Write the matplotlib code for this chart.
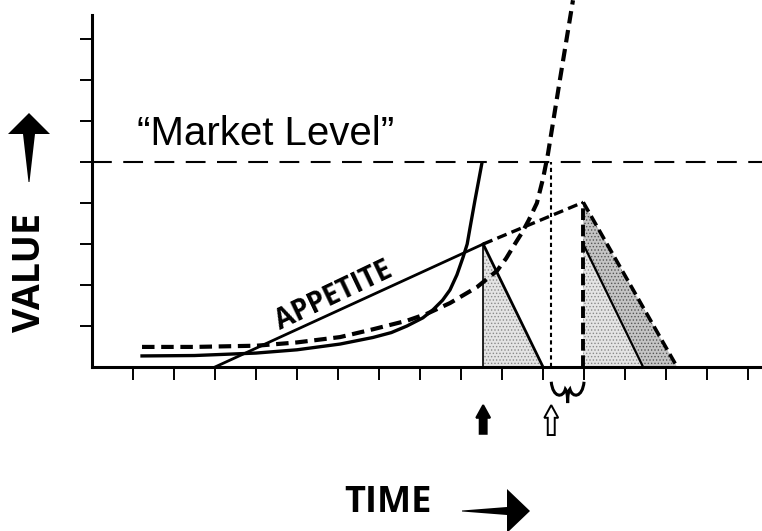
import numpy as np
import matplotlib.pyplot as plt
from matplotlib.patches import Polygon, PathPatch
from matplotlib.path import Path

# --- values (x and y in tick units) ---
market_level = 5.0

# solid curve (rises into the market level)
solid_x = [1.22, 2.5, 4.0, 5.0, 6.05, 6.85, 7.3, 7.68, 8.07, 8.32, 8.55, 8.73, 8.9, 9.05,
           9.15, 9.22, 9.34, 9.43, 9.51]
solid_y = [0.27, 0.28, 0.34, 0.42, 0.56, 0.72, 0.84, 1.0, 1.2, 1.4, 1.63, 1.88, 2.25, 2.68,
           3.0, 3.4, 4.07, 4.55, 4.98]

# dashed curve (later, steeper)
dash_x = [1.22, 2.5, 4.02, 5.0, 6.05, 6.85, 7.68, 8.17, 8.73, 9.39, 9.88, 10.1, 10.3,
          10.5, 10.65, 10.85, 11.0, 11.12, 11.41, 11.73]
dash_y = [0.49, 0.49, 0.52, 0.6, 0.73, 0.92, 1.13, 1.3, 1.56, 1.95, 2.35, 2.65, 2.98,
          3.3, 3.58, 4.0, 4.6, 5.2, 7.0, 8.95]

# appetite line: start, first peak, second peak
appetite_x = [3.0, 9.54, 11.98]
appetite_y = [0.0, 3.0, 4.02]

# decay triangles (peak x, peak height, end x)
tri1 = (9.54, 3.0, 11.0)
tri2_inner = (11.98, 3.0, 13.44)
tri2_outer = (11.98, 4.02, 14.27)

cross_x = 11.2          # dashed curve meets market level
x_ticks = list(range(1, 17))
y_ticks = list(range(1, 9))

plt.rcParams['hatch.linewidth'] = 0.6

W, H = 762, 531
fig = plt.figure(figsize=(W / 100, H / 100), dpi=100)
ax = fig.add_axes([92 / W, (H - 367) / H, (W - 92) / W, (367 - 15) / H])
ax.set_xlim(0, 16.34)
ax.set_ylim(0, 8.59)
for s in ['top', 'right']:
    ax.spines[s].set_visible(False)
for s in ['left', 'bottom']:
    ax.spines[s].set_linewidth(2.2)
ax.set_xticks(x_ticks)
ax.set_yticks(y_ticks)
ax.tick_params(length=9, width=1.4, direction='out', labelbottom=False, labelleft=False)

# shaded triangles (stippled)
ax.add_patch(Polygon([(tri2_outer[0], 0), (tri2_outer[0], tri2_outer[1]), (tri2_outer[2], 0)],
                     closed=True, facecolor='#c4c4c4', edgecolor='#555555', lw=0,
                     hatch='.....', zorder=1))
for t in [tri1, tri2_inner]:
    ax.add_patch(Polygon([(t[0], 0), (t[0], t[1]), (t[2], 0)], closed=True,
                         facecolor='#e4e4e4', edgecolor='#8a8a8a', lw=0,
                         hatch='.....', zorder=2))

# triangle edges
ax.plot([tri1[0], tri1[0]], [0, tri1[1]], color='black', lw=1.2, zorder=3)
ax.plot([tri1[0], tri1[2]], [tri1[1], 0], color='black', lw=2, zorder=3)
ax.plot([tri2_inner[0], tri2_inner[2]], [tri2_inner[1], 0], color='black', lw=1.6, zorder=3)
ax.plot([tri2_outer[0], tri2_outer[0]], [0, tri2_outer[1]], color='black', lw=2.8,
        linestyle=(0, (3, 1.2)), zorder=3)
ax.plot([tri2_outer[0], tri2_outer[2]], [tri2_outer[1], 0], color='black', lw=2.6,
        linestyle=(0, (3, 1.4)), zorder=3)

# market level
ax.plot([0, 16.34], [market_level, market_level], color='black', lw=1.5,
        linestyle=(0, (9.5, 5.5)), zorder=3, clip_on=False)
ax.text(1.10, 5.41, '\u201cMarket Level\u201d', fontsize=29, family='Liberation Sans',
        ha='left', va='baseline')

# curves
ax.plot(solid_x, solid_y, color='black', lw=2.4, zorder=4, solid_joinstyle='round')
ax.plot(dash_x, dash_y, color='black', lw=3, linestyle=(0, (3, 1.6)), zorder=4, clip_on=False)

# appetite
ax.plot(appetite_x[:2], appetite_y[:2], color='black', lw=2, zorder=4)
ax.plot(appetite_x[1:], appetite_y[1:], color='black', lw=2.4, linestyle=(0, (3, 1.6)), zorder=4)
ax.text(5.9, 1.72, 'APPETITE', fontsize=20, family='Open Sans', weight='bold',
        rotation=25.5, ha='center', va='center', rotation_mode='anchor')

# dotted vertical
ax.plot([cross_x, cross_x], [0, market_level], color='black', lw=1.5,
        linestyle=(0, (2, 1.6)), zorder=3)


def up_arrow(x, y0, y1, fc):
    hw, sw, hl = 0.17, 0.085, 0.31
    pts = [(x - sw, y0), (x - sw, y1 - hl), (x - hw, y1 - hl), (x, y1),
           (x + hw, y1 - hl), (x + sw, y1 - hl), (x + sw, y0)]
    ax.add_patch(Polygon(pts, closed=True, facecolor=fc, edgecolor='black', lw=1.4,
                         clip_on=False, zorder=5))


up_arrow(tri1[0], -1.63, -0.93, 'black')
up_arrow(cross_x, -1.66, -0.93, 'white')

# brace between crossing and second peak
x0, x1 = cross_x, tri2_outer[0] + 0.02
w = x1 - x0
xm = x0 + w / 2
verts = [(x0, -0.36),
         (x0 + 0.05 * w, -0.76), (x0 + 0.36 * w, -0.76), (x0 + 0.43 * w, -0.54),
         (xm - 0.03 * w, -0.58), (xm, -0.68), (xm, -0.88),
         (xm, -0.68), (xm + 0.03 * w, -0.58), (x1 - 0.43 * w, -0.54),
         (x1 - 0.36 * w, -0.76), (x1 - 0.05 * w, -0.76), (x1, -0.36)]
codes = [Path.MOVETO] + [Path.CURVE4] * 12
ax.add_patch(PathPatch(Path(verts, codes), facecolor='none', edgecolor='black', lw=2.2,
                       clip_on=False))


def px(x, y):
    return (x / W, 1 - y / H)


# VALUE arrow (tapered)
value_arrow = [px(29, 113), px(50, 134), px(35, 134), px(29.5, 182), px(28.5, 182),
               px(23, 134), px(8, 134)]
fig.add_artist(Polygon(value_arrow, closed=True, facecolor='black', edgecolor='none',
                       transform=fig.transFigure))
# TIME arrow (tapered)
time_arrow = [px(530, 511), px(507, 489), px(507, 507), px(462, 510.5), px(462, 511.5),
              px(507, 515), px(507, 533)]
fig.add_artist(Polygon(time_arrow, closed=True, facecolor='black', edgecolor='none',
                       transform=fig.transFigure))

fig.text(30 / W, 1 - 273 / H, 'VALUE', fontsize=27, family='Open Sans', weight='bold',
         rotation=90, ha='center', va='center')
fig.text(388 / W, 1 - 503 / H, 'TIME', fontsize=26, family='Open Sans', weight='bold',
         ha='center', va='center')

fig.savefig('out.png', dpi=100)
